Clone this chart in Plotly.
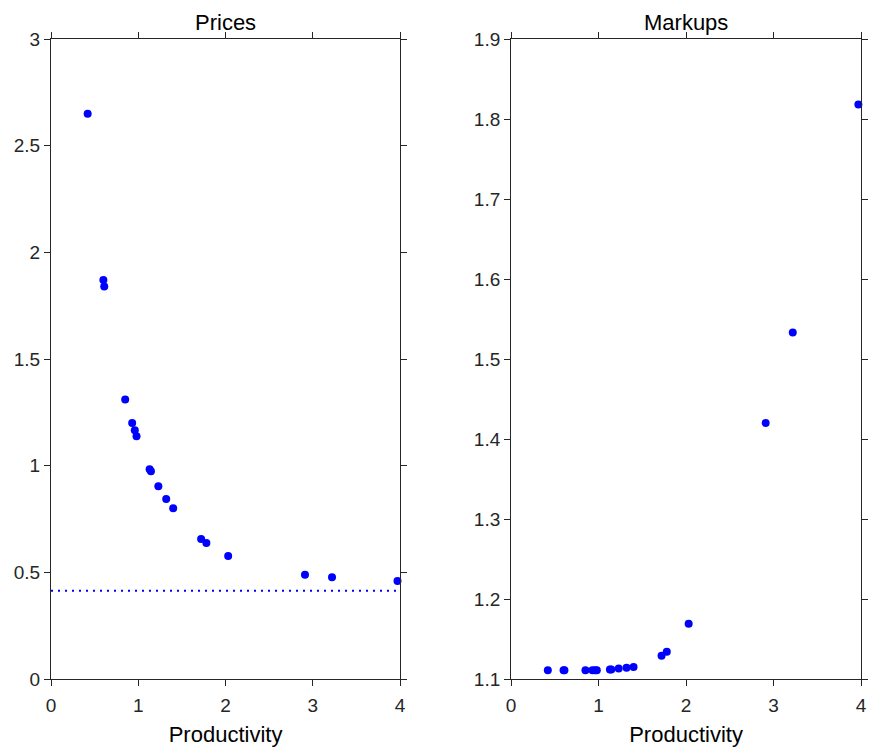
import plotly.graph_objects as go

productivity = [0.42, 0.60, 0.61, 0.85, 0.93, 0.96, 0.98, 1.13, 1.145, 1.23, 1.32, 1.40, 1.72, 1.78, 2.03, 2.91, 3.22, 3.97]
prices = [2.65, 1.87, 1.84, 1.31, 1.20, 1.166, 1.138, 0.983, 0.974, 0.903, 0.844, 0.80, 0.656, 0.638, 0.577, 0.489, 0.477, 0.459]
markups = [1.111, 1.111, 1.111, 1.111, 1.111, 1.111, 1.111, 1.112, 1.112, 1.113, 1.114, 1.115, 1.129, 1.134, 1.169, 1.420, 1.533, 1.818]
price_floor = 0.414
floor_x = [0, 4]

x_ticks = [0, 1, 2, 3, 4]
price_ticks = [0, 0.5, 1, 1.5, 2, 2.5, 3]
price_tick_text = ["0", "0.5", "1", "1.5", "2", "2.5", "3"]
markup_ticks = [1.1, 1.2, 1.3, 1.4, 1.5, 1.6, 1.7, 1.8, 1.9]

FONT = "Liberation Sans, Arial, sans-serif"
AX = "#262626"
BLUE = "#0000ff"

fig = go.Figure()
fig.add_trace(go.Scatter(x=productivity, y=prices, mode="markers",
                         marker=dict(color=BLUE, size=8), xaxis="x", yaxis="y", showlegend=False, cliponaxis=False))
fig.add_trace(go.Scatter(x=floor_x, y=[price_floor, price_floor], mode="lines",
                         line=dict(color=BLUE, width=2, dash="2px,5px"), xaxis="x", yaxis="y", showlegend=False))
fig.add_trace(go.Scatter(x=productivity, y=markups, mode="markers",
                         marker=dict(color=BLUE, size=8), xaxis="x2", yaxis="y2", showlegend=False, cliponaxis=False))

common = dict(showline=True, linecolor=AX, linewidth=1, mirror="ticks", ticks="outside",
              ticklen=6, tickcolor=AX, showgrid=False, zeroline=False, automargin=False,
              tickfont=dict(family=FONT, size=19, color=AX))

xcommon = dict(ticklabelstandoff=3)

title_font = dict(family=FONT, size=22, color="#000")

fig.update_layout(
    width=869, height=747,
    margin=dict(l=51, r=8, t=39, b=68),
    plot_bgcolor="white", paper_bgcolor="white",
    xaxis=dict(domain=[0, 0.431], range=[0, 4], tickvals=x_ticks, anchor="y",
               title=dict(text="Productivity", font=title_font, standoff=12), **common, **xcommon),
    yaxis=dict(domain=[0, 1], range=[0, 3], tickvals=price_ticks, ticktext=price_tick_text, anchor="x", **common),
    xaxis2=dict(domain=[0.568, 1], range=[0, 4], tickvals=x_ticks, anchor="y2",
                title=dict(text="Productivity", font=title_font, standoff=12), **common, **xcommon),
    yaxis2=dict(domain=[0, 1], range=[1.1, 1.9], tickvals=markup_ticks, anchor="x2", **common),
    annotations=[
        dict(text="Prices", x=0.2155, xref="paper", xanchor="center", y=1.0, yref="paper",
             yanchor="bottom", yshift=2, showarrow=False, font=title_font),
        dict(text="Markups", x=0.784, xref="paper", xanchor="center", y=1.0, yref="paper",
             yanchor="bottom", yshift=2, showarrow=False, font=title_font),
    ],
)

# remove the browser's default 8px body margin so the figure fills the window exactly
fig.write_html("out.html",
               config={"displayModeBar": False},
               post_script="document.body.style.margin='0';document.body.style.overflow='hidden';")
